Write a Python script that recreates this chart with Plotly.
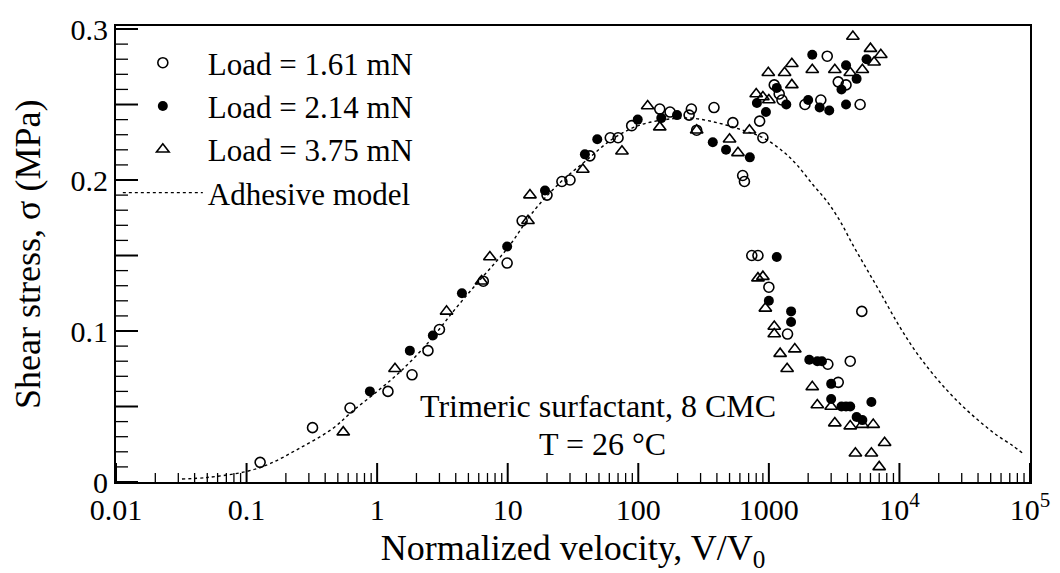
import plotly.graph_objects as go

# Load = 1.61 mN (open circles)
v_161 = [0.127, 0.32, 0.62, 1.21, 1.85, 2.45, 3.0, 6.5, 9.9, 12.9, 20, 26, 30, 42.6, 61, 70, 89,
         146, 175, 245, 255, 280, 380, 530, 630, 650, 850, 900, 1100, 1200, 1260, 1890, 2500,
         2800, 3400, 3900, 5000, 740, 825, 1000, 1390, 2830, 4200, 3400, 5150]
s_161 = [0.013, 0.036, 0.049, 0.060, 0.071, 0.087, 0.101, 0.133, 0.145, 0.173, 0.190, 0.199, 0.200,
         0.216, 0.228, 0.228, 0.236, 0.247, 0.245, 0.243, 0.247, 0.233, 0.248, 0.238, 0.203, 0.199,
         0.239, 0.228, 0.263, 0.257, 0.253, 0.250, 0.253, 0.282, 0.265, 0.263, 0.250, 0.150, 0.150,
         0.129, 0.098, 0.078, 0.080, 0.066, 0.113]

# Load = 2.14 mN (filled circles)
v_214 = [0.88, 1.78, 2.67, 4.46, 9.9, 19.3, 39, 48.5, 99, 150, 198, 372, 470, 715, 950, 810, 1150,
         1360, 2000, 2150, 2450, 2900, 3600, 3900, 3900, 4700, 5600, 1150, 1000, 1480, 1480, 2040,
         2350, 2550, 3000, 3000, 3600, 3900, 4200, 6100, 4700, 5200]
s_214 = [0.060, 0.087, 0.097, 0.125, 0.156, 0.193, 0.217, 0.227, 0.240, 0.241, 0.243, 0.225, 0.220,
         0.215, 0.245, 0.251, 0.261, 0.250, 0.253, 0.283, 0.248, 0.246, 0.260, 0.276, 0.250, 0.267,
         0.280, 0.149, 0.120, 0.113, 0.106, 0.081, 0.080, 0.080, 0.065, 0.055, 0.050, 0.050, 0.050,
         0.053, 0.043, 0.041]

# Load = 3.75 mN (open triangles)
v_375 = [0.55, 1.37, 3.4, 6.3, 7.3, 14.3, 14.8, 37.6, 75, 118, 146, 280, 500, 580, 710, 800, 900,
         1000, 990, 1320, 1500, 1500, 2150, 3200, 4200, 4400, 5200, 6000, 6400, 7200, 825, 900, 940,
         1100, 1100, 1220, 1580, 1380, 2150, 2350, 3000, 3200, 4200, 5200, 6300, 7700, 4600, 6100,
         7000]
s_375 = [0.033, 0.075, 0.113, 0.133, 0.149, 0.173, 0.190, 0.207, 0.219, 0.249, 0.235, 0.233, 0.227,
         0.218, 0.233, 0.257, 0.255, 0.253, 0.271, 0.271, 0.277, 0.263, 0.273, 0.273, 0.271, 0.295,
         0.273, 0.287, 0.278, 0.283, 0.135, 0.136, 0.115, 0.103, 0.098, 0.085, 0.088, 0.075, 0.063,
         0.051, 0.050, 0.039, 0.037, 0.038, 0.038, 0.026, 0.019, 0.019, 0.010]

# Adhesive model curve
v_model = [0.032, 0.05, 0.1, 0.15, 0.25, 0.45, 0.65, 1.0, 1.5, 2.5, 4.0, 6.3, 10, 16, 25, 40, 63,
           100, 160, 250, 400, 630, 900, 1280, 1640, 2170, 2780, 3500, 4400, 5620, 7080, 9550,
           12700, 17100, 23000, 30600, 41300, 55700, 73800, 88000]
s_model = [0.002, 0.003, 0.007, 0.012, 0.022, 0.035, 0.047, 0.060, 0.073, 0.093, 0.115, 0.135,
           0.155, 0.180, 0.198, 0.213, 0.227, 0.236, 0.240, 0.241, 0.238, 0.233, 0.228, 0.219,
           0.210, 0.197, 0.186, 0.173, 0.157, 0.141, 0.126, 0.106, 0.089, 0.074, 0.061, 0.050,
           0.040, 0.031, 0.024, 0.019]

x_tickvals = [0.01, 0.1, 1, 10, 100, 1000, 1e4, 1e5]
x_ticktext = ["0.01", "0.1", "1", "10", "100", "1000", "10<sup>4</sup>", "10<sup>5</sup>"]
y_tickvals = [0, 0.1, 0.2, 0.3]
y_ticktext = ["0", "0.1", "0.2", "0.3"]

# Unlabelled tick positions: 2..9 within each decade; every 0.05 (long) and 0.01 (short) on stress
x_minor = [m * 10.0 ** k for k in range(-2, 5) for m in range(2, 10)]
y_long = [i / 100 for i in range(5, 30, 5)]
y_short = [i / 100 for i in range(1, 30) if i % 5 != 0]

FONT = "Liberation Serif, Times New Roman, serif"
X_RANGE = [-2, 5]
Y_RANGE = [0, 0.302]
PLOT_W, PLOT_H = 914, 456   # plotting area in px, to express tick lengths as paper fractions

fig = go.Figure()
fig.add_trace(go.Scatter(
    x=v_161, y=s_161, mode="markers", name="Load = 1.61 mN",
    marker=dict(symbol="circle-open", size=10, color="black", line=dict(width=1.6, color="black")),
))
fig.add_trace(go.Scatter(
    x=v_214, y=s_214, mode="markers", name="Load = 2.14 mN",
    marker=dict(symbol="circle", size=10, color="black"),
))
fig.add_trace(go.Scatter(
    x=v_375, y=s_375, mode="markers", name="Load = 3.75 mN",
    marker=dict(symbol="triangle-up-open", size=11, color="black", line=dict(width=1.6, color="black")),
))
fig.add_trace(go.Scatter(
    x=v_model, y=s_model, mode="lines", name="Adhesive model",
    line=dict(color="black", width=1.4, dash="dot", shape="spline"),
))

# inward tick marks drawn as line shapes: position on the data axis, length in paper units
for vals, length, width in [(x_tickvals, 19, 2), (x_minor, 9, 1.3)]:
    for v in vals:
        fig.add_shape(type="line", xref="x", yref="paper", x0=v, x1=v, y0=0, y1=length / PLOT_H,
                      line=dict(color="black", width=width), layer="above")
for vals, length, width in [(y_tickvals, 22, 2), (y_long, 22, 2), (y_short, 12, 1.3)]:
    for v in vals:
        fig.add_shape(type="line", xref="paper", yref="y", x0=0, x1=length / PLOT_W, y0=v, y1=v,
                      line=dict(color="black", width=width), layer="above")

fig.add_annotation(text="Trimeric surfactant, 8 CMC", xref="paper", yref="paper",
                   x=0.527, y=0.122, xanchor="center", showarrow=False,
                   font=dict(size=32, family=FONT, color="black"))
fig.add_annotation(text="T = 26 °C", xref="paper", yref="paper",
                   x=0.532, y=0.040, xanchor="center", showarrow=False,
                   font=dict(size=32, family=FONT, color="black"))
fig.add_annotation(text="Shear stress, σ (MPa)", xref="paper", yref="paper",
                   x=-0.0963, y=0.5, xanchor="center", yanchor="middle", textangle=-90,
                   showarrow=False, font=dict(size=36, family=FONT, color="black"))

fig.update_layout(
    template="none",
    width=1060, height=573,
    margin=dict(l=116, r=30, t=26, b=91, autoexpand=False),
    paper_bgcolor="white", plot_bgcolor="white",
    font=dict(family=FONT, size=30, color="black"),
    showlegend=True,
    legend=dict(x=0.002, y=0.978, xanchor="left", yanchor="top", bgcolor="rgba(0,0,0,0)",
                font=dict(size=31, family=FONT), itemwidth=80),
    xaxis=dict(
        type="log", range=X_RANGE, tickvals=x_tickvals, ticktext=x_ticktext, ticks="",
        automargin=False,
        showline=True, linecolor="black", linewidth=2, mirror=True, showgrid=False, zeroline=False,
        title=dict(text="Normalized velocity, V/V<sub>0</sub>", font=dict(size=36, family=FONT), standoff=10),
        tickfont=dict(size=30, family=FONT),
    ),
    yaxis=dict(
        range=Y_RANGE, tickvals=y_tickvals, ticktext=y_ticktext, ticks="",
        automargin=False,
        showline=True, linecolor="black", linewidth=2, mirror=True, showgrid=False, zeroline=False,
        tickfont=dict(size=30, family=FONT),
    ),
)

fig.write_html("out.html")
